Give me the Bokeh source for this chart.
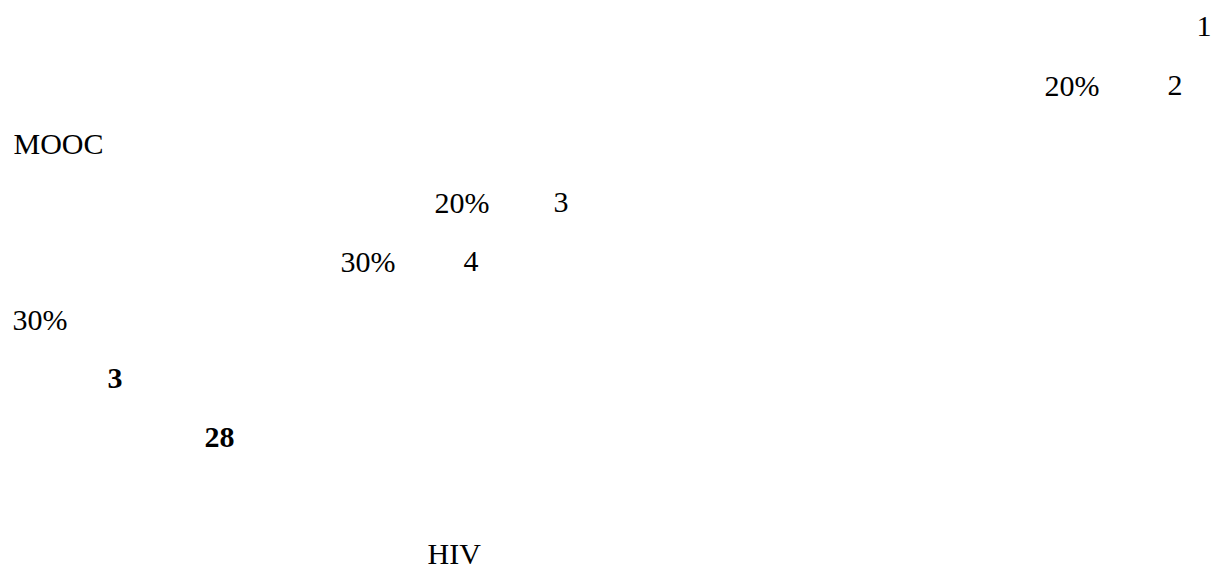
from bokeh.plotting import figure
from bokeh.models import ColumnDataSource, Range1d
from bokeh.core.properties import value
from bokeh.embed import file_html
from bokeh.resources import INLINE

# Visible (Latin) fragments of the page, one entry per fragment
labels = ["1", "20%", "2", "MOOC", "20%", "3", "30%", "4", "30%", "3", "28", "HIV"]
line_no = [0, 1, 1, 2, 3, 3, 4, 4, 5, 6, 7, 9]
x_pos = [1196, 1044, 1167, 13, 434, 553, 340, 463, 12, 107, 204, 427]
bold = [False, False, False, False, False, False, False, False, False, True, True, False]

W, H = 1213, 570
first_baseline = 36.0
line_step = 58.7
font_px = 30
descent = 0.22 * font_px
mid_offset = 0.34 * font_px  # distance from baseline up to the middle of the text box

baseline = [min(first_baseline + line_step * n, H - descent) for n in line_no]
mid_y = [b - mid_offset for b in baseline]

p = figure(width=W, height=H, output_backend="svg", toolbar_location=None,
           x_range=Range1d(0, W), y_range=Range1d(H, 0), min_border=0,
           background_fill_color="white", border_fill_color="white")
p.axis.visible = False
p.grid.visible = False
p.outline_line_color = None

def src(flag):
    return ColumnDataSource(dict(
        x=[x for x, b in zip(x_pos, bold) if b == flag],
        y=[y for y, b in zip(mid_y, bold) if b == flag],
        t=[t for t, b in zip(labels, bold) if b == flag],
    ))

p.text(x="x", y="y", text="t", source=src(False), text_font=value("Liberation Serif"),
       text_font_size=f"{font_px}px", text_color="black", text_baseline="middle",
       text_align="left")
p.text(x="x", y="y", text="t", source=src(True), text_font=value("Liberation Serif"),
       text_font_size=f"{font_px}px", text_font_style="bold", text_color="black",
       text_baseline="middle", text_align="left")

open("out.html", "w").write(file_html(p, INLINE))
